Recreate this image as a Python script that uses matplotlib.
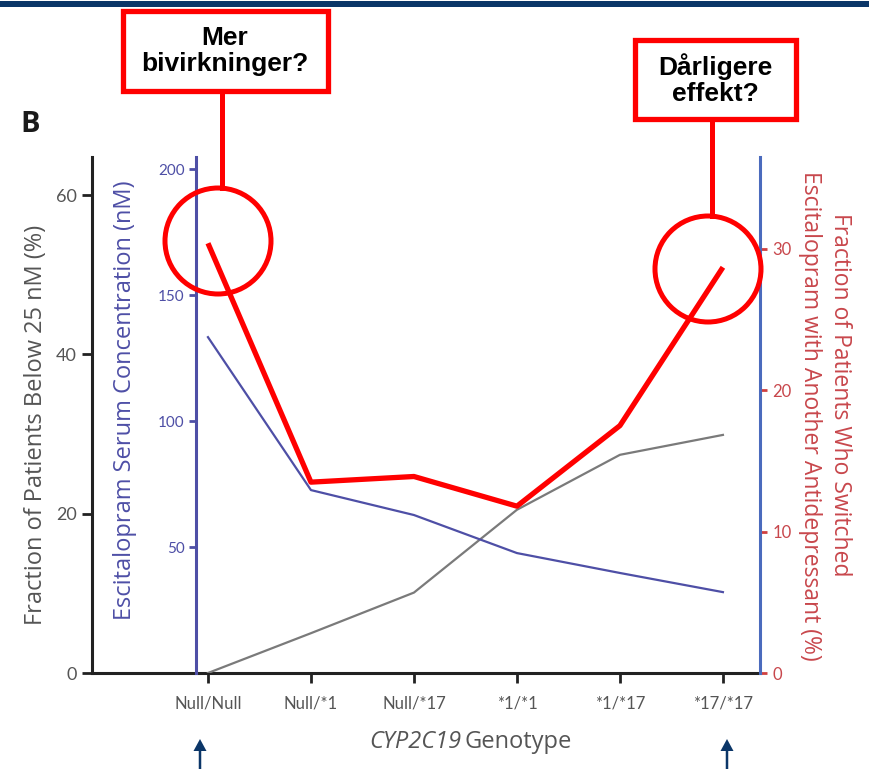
import matplotlib.pyplot as plt
import numpy as np
from matplotlib.patches import Rectangle, Circle, FancyArrow

plt.rcParams['font.family'] = ['Lato', 'DejaVu Sans']

#--------------- data -----------------#
genotypes = ['Null/Null', 'Null/*1', 'Null/*17', '*1/*1', '*1/*17', '*17/*17']
below25 = [0.0, 5.0, 10.1, 20.5, 27.4, 29.9]          # left axis (%)
serum_conc = [133.3, 72.6, 62.7, 47.6, 39.7, 32.1]    # blue axis (nM)
switched = [30.4, 13.5, 13.9, 11.8, 17.5, 28.7]       # right axis (%)

left_ticks = [0, 20, 40, 60]
blue_ticks = [50, 100, 150, 200]
red_ticks = [0, 10, 20, 30]

W, H = 869, 769
GRAY = '#555555'
BLUE = '#4e4fa6'
RED_TXT = '#c8474c'
NAVY = '#0b3668'

fig = plt.figure(figsize=(W/100, H/100), dpi=100)

def px_axes(l, t, r, b, **kw):
    return fig.add_axes([l/W, 1-b/H, (r-l)/W, (b-t)/H], **kw)

x = np.arange(len(genotypes))

#--------------- main (left) axis -----------------#
ax = px_axes(92, 157, 760, 673)
ax.set_xlim(-1.126, 5.36)
ax.set_ylim(0, 64.8)
ax.spines['top'].set_visible(False)
ax.spines['right'].set_visible(False)
ax.spines['left'].set_color('#222222')
ax.spines['bottom'].set_color('#222222')
ax.spines['left'].set_linewidth(2.2)
ax.spines['bottom'].set_linewidth(2.2)
ax.set_yticks(left_ticks)
ax.tick_params(axis='y', colors='#222222', labelcolor=GRAY, labelsize=13, length=7, width=2, pad=4)
ax.set_xticks(x)
ax.set_xticklabels(genotypes, fontsize=12, color=GRAY)
ax.tick_params(axis='x', colors='#222222', labelcolor=GRAY, length=7, width=2, pad=9)
ax.plot(x, below25, color='#7a7a7a', lw=1.6, zorder=3)

#--------------- blue axis -----------------#
axb = ax.twinx()
axb.set_ylim(0, 204.8)
for s in ['top', 'right', 'bottom']:
    axb.spines[s].set_visible(False)
axb.spines['left'].set_position(('axes', (196-92)/(760-92)))
axb.spines['left'].set_color(BLUE)
axb.spines['left'].set_linewidth(2.2)
axb.yaxis.set_ticks_position('left')
axb.set_yticks(blue_ticks)
axb.tick_params(axis='y', colors=BLUE, labelcolor=BLUE, labelsize=11, length=5, width=2, pad=3)
axb.plot(x, serum_conc, color=BLUE, lw=1.6, zorder=3)

#--------------- red (right) axis -----------------#
axr = ax.twinx()
axr.set_ylim(0, 36.5)
for s in ['top', 'left', 'bottom']:
    axr.spines[s].set_visible(False)
axr.spines['right'].set_color('#4b6bbd')
axr.spines['right'].set_linewidth(2.2)
axr.set_yticks(red_ticks)
axr.tick_params(axis='y', colors='#d04040', labelcolor=RED_TXT, labelsize=12, length=5, width=2, pad=4)
axr.plot(x, switched, color='#ff0000', lw=3.8, zorder=4, solid_capstyle='butt', solid_joinstyle='round')

#--------------- axis labels -----------------#
def ptxt(px, py, s, **kw):
    fig.text(px/W, 1-py/H, s, **kw)

LBL = ['Open Sans', 'DejaVu Sans']
ptxt(36, 425, 'Fraction of Patients Below 25 nM (%)', rotation=90, ha='center', va='center',
     fontsize=17, color=GRAY, family=LBL)
ptxt(125, 400, 'Escitalopram Serum Concentration (nM)', rotation=90, ha='center', va='center',
     fontsize=17, color=BLUE, family=LBL)
ptxt(840, 395, 'Fraction of Patients Who Switched', rotation=-90, ha='center', va='center',
     fontsize=16.5, color=RED_TXT, family=LBL)
ptxt(810, 416, 'Escitalopram with Another Antidepressant (%)', rotation=-90, ha='center', va='center',
     fontsize=16.5, color=RED_TXT, family=LBL)
ptxt(461, 742, 'CYP2C19', ha='right', va='center', fontsize=17, style='italic', color=GRAY, family=LBL)
ptxt(465, 742, 'Genotype', ha='left', va='center', fontsize=17, color=GRAY, family=LBL)
ptxt(30, 124, 'B', ha='center', va='center', fontsize=21, fontweight='bold', color='#1a1a1a', family=LBL)

#--------------- overlay annotations -----------------#
ov = fig.add_axes([0, 0, 1, 1], zorder=10)
ov.set_xlim(0, W)
ov.set_ylim(H, 0)
ov.axis('off')
ov.patch.set_alpha(0)

ov.add_patch(Rectangle((0, 1), W, 6, color=NAVY, lw=0))

ov.add_patch(Rectangle((122.5, 10.5), 205, 80, fill=True, facecolor='white', edgecolor='#ff0000', lw=3.8))
ov.text(225, 51, 'Mer\nbivirkninger?', ha='center', va='center', fontsize=19, fontweight='bold',
        family='Liberation Sans', linespacing=1.1)
ov.plot([222, 222], [91, 188], color='#ff0000', lw=3.6)
ov.add_patch(Circle((218, 241), 53, fill=False, edgecolor='#ff0000', lw=3.6))

ov.add_patch(Rectangle((634.5, 39.5), 161, 79, fill=True, facecolor='white', edgecolor='#ff0000', lw=3.8))
ov.text(715, 80, 'Dårligere\neffekt?', ha='center', va='center', fontsize=19, fontweight='bold',
        family='Liberation Sans', linespacing=1.1)
ov.plot([712, 712], [119, 216], color='#ff0000', lw=3.6)
ov.add_patch(Circle((708, 269), 53, fill=False, edgecolor='#ff0000', lw=3.6))

for ax_x in [200, 727]:
    ov.add_patch(FancyArrow(ax_x, 769, 0, -30, width=2.5, head_width=13, head_length=12,
                            length_includes_head=True, color=NAVY, lw=0))

plt.savefig('out.png', dpi=100)
